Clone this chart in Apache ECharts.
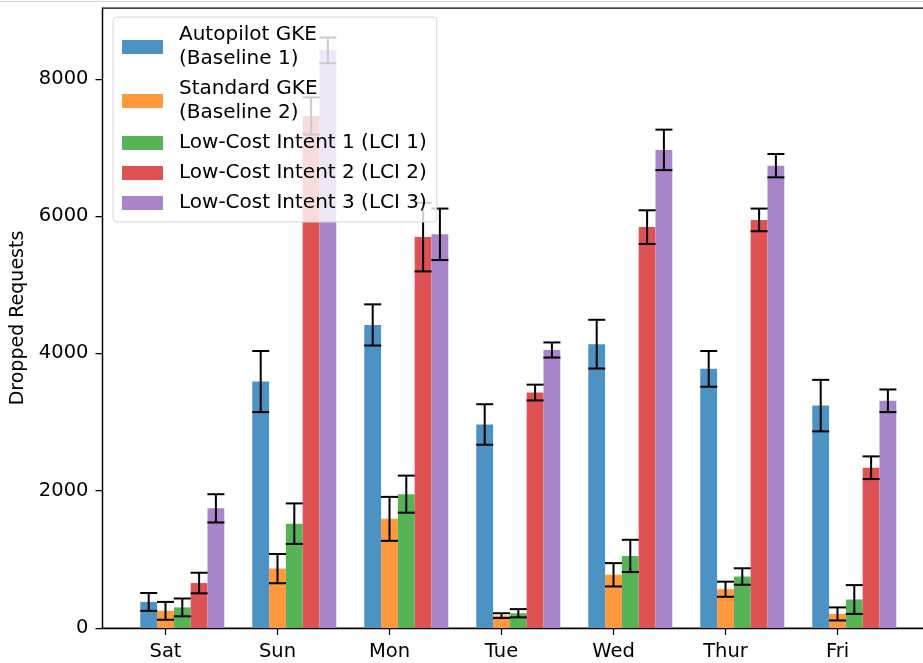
<!DOCTYPE html>
<html>
<head>
<meta charset="utf-8">
<script src="https://cdn.jsdelivr.net/npm/echarts@6/dist/echarts.min.js"></script>
<style>
html,body{margin:0;padding:0;background:#fff;}
#chart{width:923px;height:663px;}
</style>
</head>
<body>
<div id="chart"></div>
<script>
// ---- data ----
var days = ['Sat', 'Sun', 'Mon', 'Tue', 'Wed', 'Thur', 'Fri'];
var seriesNames = ['Autopilot GKE\n(Baseline 1)', 'Standard GKE\n(Baseline 2)', 'Low-Cost Intent 1 (LCI 1)', 'Low-Cost Intent 2 (LCI 2)', 'Low-Cost Intent 3 (LCI 3)'];
var autopilot    = [380, 3590, 4415, 2965, 4135, 3775, 3240];
var autopilotErr = [130, 445, 300, 295, 355, 260, 375];
var standard     = [250, 865, 1590, 180, 775, 565, 205];
var standardErr  = [130, 213, 320, 35, 170, 110, 95];
var lci1         = [300, 1520, 1950, 215, 1050, 750, 415];
var lci1Err      = [130, 295, 270, 60, 235, 120, 210];
var lci2         = [655, 7460, 5695, 3430, 5840, 5945, 2335];
var lci2Err      = [150, 270, 500, 115, 245, 165, 165];
var lci3         = [1743, 8415, 5735, 4050, 6965, 6735, 3310];
var lci3Err      = [206, 187, 375, 110, 295, 170, 165];
var yTicks = [0, 2000, 4000, 6000, 8000];

// ---- style ----
var colors = ['#4c92c3', '#ff993e', '#56b356', '#de5253', '#a985ca'];
var FONT = 'DejaVu Sans';
var W = 0.15; // bar width in category units

var vals = [autopilot, standard, lci1, lci2, lci3];
var errs = [autopilotErr, standardErr, lci1Err, lci2Err, lci3Err];

var maxTop = 0;
vals.forEach(function (v, s) { v.forEach(function (d, i) { maxTop = Math.max(maxTop, d + errs[s][i]); }); });
var yMax = maxTop * 1.05;
var xLo = -1.5 * W, xHi = (days.length - 1) + 3.5 * W;
var xMin = xLo - 0.05 * (xHi - xLo), xMax = xHi + 0.05 * (xHi - xLo);

function seriesData(s) {
  return vals[s].map(function (d, i) { return [i + (s - 1) * W, d, errs[s][i]]; });
}

var series = [];
vals.forEach(function (v, s) {
  series.push({
    type: 'custom',
    name: seriesNames[s],
    itemStyle: { color: colors[s] },
    encode: { x: 0, y: 1 },
    z: 2,
    data: seriesData(s),
    renderItem: function (params, api) {
      var x = api.value(0), y = api.value(1);
      var p1 = api.coord([x - W / 2, y]);
      var p2 = api.coord([x + W / 2, 0]);
      return {
        type: 'rect',
        shape: { x: p1[0], y: p1[1], width: p2[0] - p1[0], height: p2[1] - p1[1] },
        style: { fill: colors[s] }
      };
    }
  });
});
vals.forEach(function (v, s) {
  series.push({
    type: 'custom',
    name: 'err' + s,
    encode: { x: 0, y: 1 },
    z: 3,
    silent: true,
    data: seriesData(s),
    renderItem: function (params, api) {
      var x = api.value(0), y = api.value(1), e = api.value(2);
      var top = api.coord([x, y + e]);
      var bot = api.coord([x, y - e]);
      var hc = 8.5;
      var st = { stroke: '#000', lineWidth: 2 };
      return {
        type: 'group',
        children: [
          { type: 'line', shape: { x1: top[0], y1: top[1], x2: bot[0], y2: bot[1] }, style: st },
          { type: 'line', shape: { x1: top[0] - hc, y1: top[1], x2: top[0] + hc, y2: top[1] }, style: st },
          { type: 'line', shape: { x1: bot[0] - hc, y1: bot[1], x2: bot[0] + hc, y2: bot[1] }, style: st }
        ]
      };
    }
  });
});

var chart = echarts.init(document.getElementById('chart'));
var gridLeft = 102.5, gridTop = 8, pxPerUnit = 112;
var gridWidth = (xMax - xMin) * pxPerUnit;
chart.setOption({
  animation: false,
  backgroundColor: '#fff',
  textStyle: { fontFamily: FONT },
  grid: {
    left: gridLeft, top: gridTop, bottom: 35,
    right: 923 - (gridLeft + gridWidth),
    outerBoundsMode: 'none', containLabel: false,
    show: true, borderColor: '#000', borderWidth: 1.25, backgroundColor: 'transparent'
  },
  graphic: [{
    type: 'line', shape: { x1: 0, y1: 1.5, x2: 923, y2: 1.5 },
    style: { stroke: '#d4d4d4', lineWidth: 1 }, z: 10
  }],
  legend: {
    orient: 'vertical', left: 113, top: 17,
    data: seriesNames.map(function (n, i) { return { name: n, itemStyle: { color: colors[i] } }; }),
    icon: 'rect', itemWidth: 41, itemHeight: 14, itemGap: 6,
    padding: [6, 10, 7, 9],
    backgroundColor: 'rgba(255,255,255,0.8)', borderColor: '#d6d6d6', borderWidth: 1, borderRadius: 4,
    textStyle: { fontFamily: FONT, fontSize: 20, lineHeight: 24, color: '#000', padding: [0, 0, 0, 11] },
    selectedMode: false
  },
  xAxis: {
    type: 'value', min: xMin, max: xMax,
    splitLine: { show: false },
    axisLine: { show: true, onZero: false, lineStyle: { color: '#000', width: 1.25 } },
    axisTick: { show: true, length: 7, customValues: days.map(function (d, i) { return i; }), lineStyle: { color: '#000', width: 1.25 } },
    axisLabel: {
      customValues: days.map(function (d, i) { return i; }),
      formatter: function (v) { return days[Math.round(v)]; },
      fontFamily: FONT, fontSize: 19.5, color: '#000', margin: 14
    }
  },
  yAxis: {
    type: 'value', min: 0, max: yMax,
    name: 'Dropped Requests', nameLocation: 'middle', nameGap: 75,
    nameTextStyle: { fontFamily: FONT, fontSize: 19, color: '#000' },
    splitLine: { show: false },
    axisLine: { show: true, onZero: false, lineStyle: { color: '#000', width: 1.25 } },
    axisTick: { show: true, length: 7, customValues: yTicks, lineStyle: { color: '#000', width: 1.25 } },
    axisLabel: {
      customValues: yTicks,
      formatter: function (v) { return String(Math.round(v)); },
      fontFamily: FONT, fontSize: 19.5, color: '#000', margin: 14
    }
  },
  series: series
});
</script>
</body>
</html>
